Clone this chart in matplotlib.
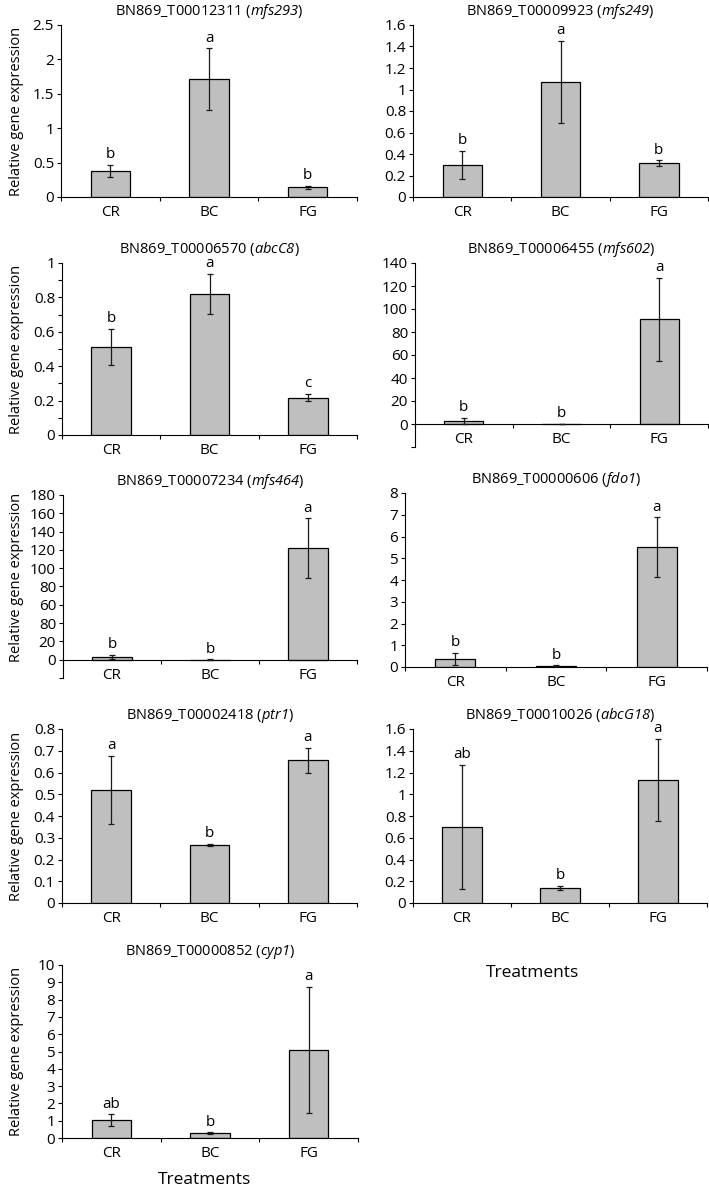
import numpy as np
import matplotlib
matplotlib.use('Agg')
import matplotlib.pyplot as plt
from matplotlib.ticker import FixedLocator, FuncFormatter

# fonts (math text is only used for the italic gene names)
plt.rcParams['font.family'] = ['Open Sans', 'DejaVu Sans']
plt.rcParams['mathtext.fontset'] = 'custom'
plt.rcParams['mathtext.rm'] = 'Open Sans:italic'
plt.rcParams['mathtext.it'] = 'Open Sans:italic'

# data
treatments = ['CR', 'BC', 'FG']
gene_ids = ['BN869_T00012311', 'BN869_T00009923', 'BN869_T00006570',
            'BN869_T00006455', 'BN869_T00007234', 'BN869_T00000606',
            'BN869_T00002418', 'BN869_T00010026', 'BN869_T00000852']
gene_names = ['mfs293', 'mfs249', 'abcC8', 'mfs602', 'mfs464', 'fdo1',
              'ptr1', 'abcG18', 'cyp1']
means = [[0.38, 1.71, 0.14],
         [0.30, 1.07, 0.315],
         [0.51, 0.82, 0.218],
         [2.7, 0.1, 91.0],
         [2.8, 0.2, 122.0],
         [0.37, 0.06, 5.52],
         [0.52, 0.267, 0.657],
         [0.70, 0.138, 1.13],
         [1.04, 0.27, 5.08]]
errors = [[0.085, 0.45, 0.025],
          [0.13, 0.38, 0.025],
          [0.105, 0.115, 0.022],
          [2.8, 0.1, 36.0],
          [2.5, 0.2, 32.5],
          [0.27, 0.01, 1.36],
          [0.157, 0.004, 0.057],
          [0.57, 0.02, 0.38],
          [0.32, 0.05, 3.64]]
letters = [['b', 'a', 'b'],
           ['b', 'a', 'b'],
           ['b', 'a', 'c'],
           ['b', 'b', 'a'],
           ['b', 'b', 'a'],
           ['b', 'b', 'a'],
           ['a', 'b', 'a'],
           ['ab', 'b', 'a'],
           ['ab', 'b', 'a']]
# y axis: (min, max, step)
y_ranges = [(0, 2.5, 0.5), (0, 1.6, 0.2), (0, 1.0, 0.2),
            (-20, 140, 20), (-20, 180, 20), (0, 8, 1),
            (0, 0.8, 0.1), (0, 1.6, 0.2), (0, 10, 1)]
# tick labels of the mfs464 panel as printed (40 is labelled 80)
mfs464_labels = ['', '0', '20', '80', '60', '80', '100', '120', '140', '160', '180']

# panel boxes in pixels: left, right, top, bottom
W, H = 709, 1191
boxes = [(61, 357, 25, 197), (413, 708, 25, 197),
         (62, 357, 263, 435), (415, 708, 263, 447),
         (63, 357, 495, 678), (405, 707, 493, 667),
         (62, 357, 729, 903), (413, 707, 729, 903),
         (62, 358, 965, 1138)]
ylabel_panels = [0, 2, 4, 6, 8]

fig = plt.figure(figsize=(W / 100, H / 100), dpi=100)

for i in range(9):
    l, r, t, b = boxes[i]
    ax = fig.add_axes([l / W, 1 - b / H, (r - l) / W, (b - t) / H])
    x = np.arange(len(treatments))

    # bars with error bars
    ax.bar(x, means[i], width=0.4, color='#bfbfbf', edgecolor='black',
           linewidth=0.9, zorder=2)
    ax.errorbar(x, means[i], yerr=errors[i], fmt='none', ecolor='#1a1a1a',
                elinewidth=0.9, capsize=2, capthick=0.9, zorder=3)

    # significance letters
    for j in range(3):
        ax.annotate(letters[i][j], (x[j], means[i][j] + errors[i][j]),
                    xytext=(0, 2), textcoords='offset points',
                    ha='center', va='bottom', fontsize=11, annotation_clip=False)

    # y axis
    ymin, ymax, step = y_ranges[i]
    ax.set_ylim(ymin, ymax)
    ticks = np.arange(ymin, ymax + step / 2, step)
    ax.yaxis.set_major_locator(FixedLocator(ticks))
    if i == 4:
        ax.set_yticklabels(mfs464_labels)
    else:
        ax.yaxis.set_major_formatter(
            FuncFormatter(lambda v, p: '' if v < 0 else '%g' % round(v, 6)))
    if i == 2:
        ax.yaxis.set_minor_locator(FixedLocator(np.arange(0.1, 1.0, 0.2)))
    ax.tick_params(axis='y', which='both', direction='out', length=3, width=0.8,
                   pad=2, labelsize=11)

    # x axis with category boundary ticks
    ax.set_xlim(-0.5, 2.5)
    ax.set_xticks(x)
    ax.set_xticklabels(treatments)
    ax.set_xticks([-0.5, 0.5, 1.5, 2.5], minor=True)
    ax.tick_params(axis='x', which='major', length=0, pad=6, labelsize=11)
    ax.tick_params(axis='x', which='minor', direction='out', length=3, width=0.8)

    # spines
    ax.spines['top'].set_visible(False)
    ax.spines['right'].set_visible(False)
    ax.spines['left'].set_linewidth(0.8)
    ax.spines['bottom'].set_linewidth(0.8)
    ax.spines['bottom'].set_position(('data', 0))
    ax.patch.set_alpha(0)

    ax.set_title(gene_ids[i] + ' ($\\mathrm{' + gene_names[i] + '}$)',
                 fontsize=10.5, pad=7.5)

    if i in ylabel_panels:
        ax.set_ylabel('Relative gene expression', fontsize=10.5)
        # center the label on the positive part of the axis
        y0 = t + ymax / (ymax - ymin) * (b - t)
        ax.yaxis.set_label_coords((24 - l) / (r - l), (b - (t + y0) / 2) / (b - t))

# x axis titles
fig.text(533 / W, 1 - 973 / H, 'Treatments', ha='center', va='center', fontsize=12.5)
fig.text(205 / W, 1 - 1180 / H, 'Treatments', ha='center', va='center', fontsize=12.5)

fig.savefig('out.png', dpi=100)
